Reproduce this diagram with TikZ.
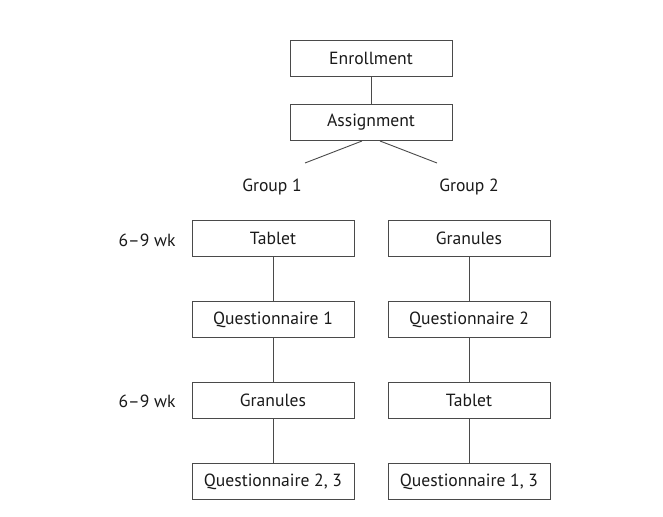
\documentclass[tikz,border=0pt]{standalone}
\usepackage{fontspec}
\setmainfont{PT Sans}
\usepackage{xcolor}
\definecolor{linegray}{HTML}{4A4A4A}
\definecolor{textgray}{HTML}{1A1A1A}
\tikzset{
  stagebox/.style={draw=linegray, line width=0.9pt, minimum width=162pt, minimum height=36pt,
    inner sep=0pt, font=\fontsize{17.6}{19}\selectfont, text=textgray},
  lbl/.style={font=\fontsize{17.6}{19}\selectfont, text=textgray},
  link/.style={draw=linegray, line width=0.9pt}
}

\begin{document}
\begin{tikzpicture}[x=1pt, y=-1pt]
\useasboundingbox[fill=white] (0,0) rectangle (663,516);
% top
\node[stagebox] (enrol) at (371,58) {Enrollment};
\node[stagebox] (assign) at (371,122.5) {Assignment};
\draw[link] (enrol) -- (assign);
\coordinate (s1) at (362,141);
\coordinate (s2) at (380,141);
\coordinate (e1) at (305,163);
\coordinate (e2) at (437,163);
\draw[link] (s1) -- (e1);
\draw[link] (s2) -- (e2);
\node[lbl] (grp1) at (272,187) {Group 1};
\node[lbl] (grp2) at (469,187) {Group 2};
% group 1
\node[stagebox] (tab1) at (273,238.5) {Tablet};
\node[stagebox] (q1) at (273,319.5) {Questionnaire 1};
\node[stagebox] (gra1) at (273,400.5) {Granules};
\node[stagebox] (q23) at (273,481.5) {Questionnaire 2, 3};
\draw[link] (tab1) -- (q1);
\draw[link] (q1) -- (gra1);
\draw[link] (gra1) -- (q23);
% group 2
\node[stagebox] (gra2) at (469,238.5) {Granules};
\node[stagebox] (q2) at (469,319.5) {Questionnaire 2};
\node[stagebox] (tab2) at (469,400.5) {Tablet};
\node[stagebox] (q13) at (469,481.5) {Questionnaire 1, 3};
\draw[link] (gra2) -- (q2);
\draw[link] (q2) -- (tab2);
\draw[link] (tab2) -- (q13);
% durations
\node[lbl] (wk1) at (147,240) {6--9 wk};
\node[lbl] (wk2) at (147,401) {6--9 wk};
\end{tikzpicture}
\end{document}
